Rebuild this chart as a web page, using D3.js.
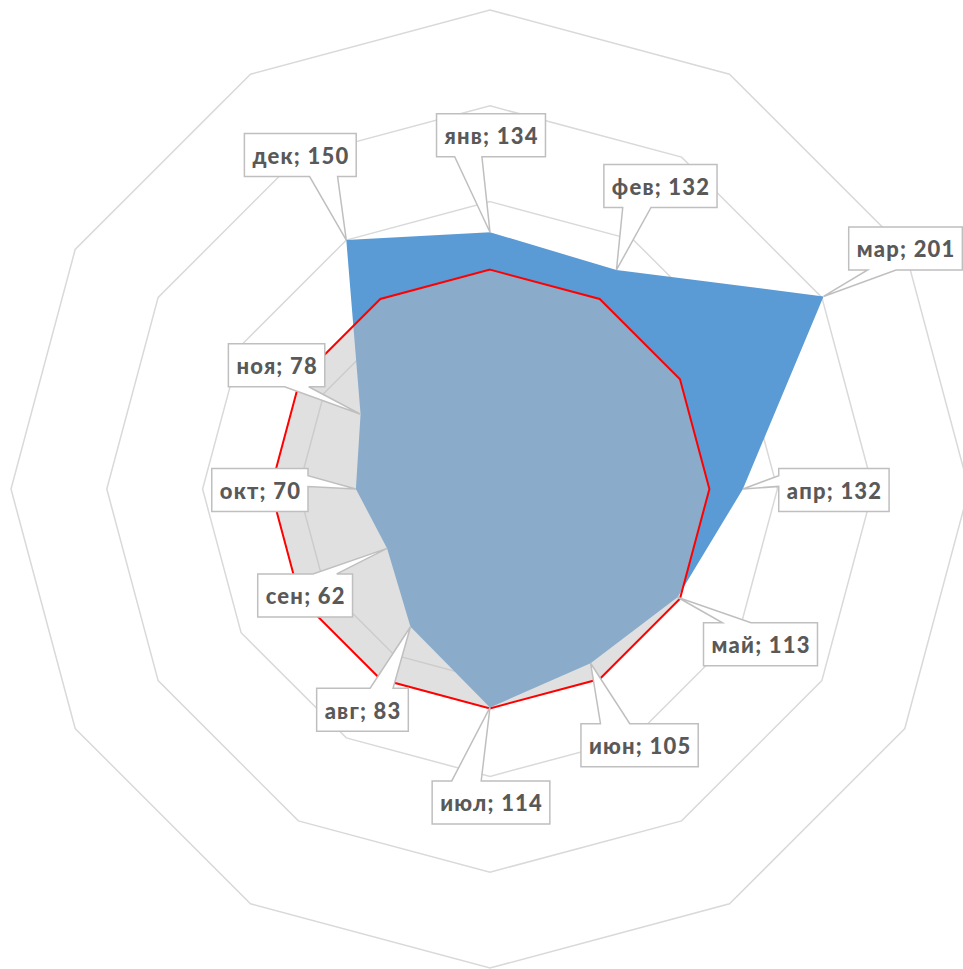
<!DOCTYPE html>
<html>
<head>
<meta charset="utf-8">
<script src="https://cdn.jsdelivr.net/npm/d3@7"></script>
<style>
  body { margin: 0; background: #fff; }
  svg { display: block; }
</style>
</head>
<body>
<div id="chart"></div>
<script>
// month labels and values
var months = ["янв", "фев", "мар", "апр", "май", "июн", "июл", "авг", "сен", "окт", "ноя", "дек"];
var values = [134, 132, 201, 132, 113, 105, 114, 83, 62, 70, 78, 150];
// average series (grey area, red outline)
var averageValues = [114.5, 114.5, 114.5, 114.5, 114.5, 114.5, 114.5, 114.5, 114.5, 114.5, 114.5, 114.5];
// radial grid levels
var gridTicks = [50, 100, 150, 200, 250];

// where each callout box sits relative to its point (layout only)
var labelOffsets = [[1, -97], [44, -84], [82, -48], [91, 1], [83, 47], [49, 82],
                    [1, 95], [-48, 83], [-82, 47], [-96, 1], [-84, -49], [-46, -85]];

var width = 963, height = 969;
var cx = 490, cy = 489;
var outerR = 479;
var spacing = 1.2;

var svg = d3.select("#chart").append("svg")
  .attr("width", width)
  .attr("height", height);

var g = svg.append("g").attr("transform", "translate(" + cx + "," + cy + ")");

var r = d3.scaleLinear().domain([0, 250]).range([0, outerR]);
var angle = d3.scaleLinear().domain([0, months.length]).range([0, 2 * Math.PI]);

var radial = d3.lineRadial()
  .angle(function(d, i) { return angle(i); })
  .radius(function(d) { return r(d); })
  .curve(d3.curveLinearClosed);

// grid polygons
g.selectAll("path.grid")
  .data(gridTicks)
  .enter()
  .append("path")
  .attr("class", "grid")
  .attr("d", function(t) { return radial(months.map(function() { return t; })); })
  .attr("fill", "none")
  .attr("stroke", "#d9d9d9")
  .attr("stroke-width", 1.5);

// main series
g.append("path")
  .attr("d", radial(values))
  .attr("fill", "#5b9bd5");

// average series, translucent grey on top
g.append("path")
  .attr("d", radial(averageValues))
  .attr("fill", "rgb(190,190,190)")
  .attr("fill-opacity", 0.48);

g.append("path")
  .attr("d", radial(averageValues))
  .attr("fill", "none")
  .attr("stroke", "#ff0000")
  .attr("stroke-width", 2);

function point(v, i) {
  var a = angle(i);
  return [cx + r(v) * Math.sin(a), cy - r(v) * Math.cos(a)];
}

// callout shape like the office wedge-rect callout
function calloutPath(bx, by, w, h, px, py) {
  var l = bx - w / 2, t = by - h / 2, rt = bx + w / 2, b = by + h / 2;
  var dx = px - bx, dy = py - by;
  var dq = dx * h / w;
  var x1 = l + w * (dx > 0 ? 7 : 2) / 12, x2 = l + w * (dx > 0 ? 10 : 5) / 12;
  var y1 = t + h * (dy > 0 ? 7 : 2) / 12, y2 = t + h * (dy > 0 ? 10 : 5) / 12;
  var p = d3.path();
  p.moveTo(l, t);
  if (Math.abs(dy) > Math.abs(dq)) {
    if (dy < 0) { p.lineTo(x1, t); p.lineTo(px, py); p.lineTo(x2, t); }
    p.lineTo(rt, t);
    p.lineTo(rt, b);
    if (dy > 0) { p.lineTo(x2, b); p.lineTo(px, py); p.lineTo(x1, b); }
    p.lineTo(l, b);
  } else {
    p.lineTo(rt, t);
    if (dx > 0) { p.lineTo(rt, y1); p.lineTo(px, py); p.lineTo(rt, y2); }
    p.lineTo(rt, b);
    p.lineTo(l, b);
    if (dx < 0) { p.lineTo(l, y2); p.lineTo(px, py); p.lineTo(l, y1); }
  }
  p.closePath();
  return p.toString();
}

var labels = svg.append("g").attr("class", "labels");

months.forEach(function(m, i) {
  var pt = point(values[i], i);
  var bx = pt[0] + labelOffsets[i][0];
  var by = pt[1] + labelOffsets[i][1];
  var lab = labels.append("g");
  var shape = lab.append("path");
  var txt = lab.append("text")
    .attr("x", bx + spacing / 2)
    .attr("y", by + 9)
    .attr("text-anchor", "middle")
    .attr("font-family", "Lato, 'Open Sans', sans-serif")
    .attr("font-weight", 900)
    .attr("font-size", 22)
    .attr("letter-spacing", spacing)
    .attr("fill", "#595959")
    .text(m + "; " + values[i]);
  var w = txt.node().getComputedTextLength() - spacing + 16;
  var h = 43;
  shape.attr("d", calloutPath(bx, by, w, h, pt[0], pt[1]))
    .attr("fill", "#fff")
    .attr("stroke", "#bfbfbf")
    .attr("stroke-width", 1.5);
});
</script>
</body>
</html>
